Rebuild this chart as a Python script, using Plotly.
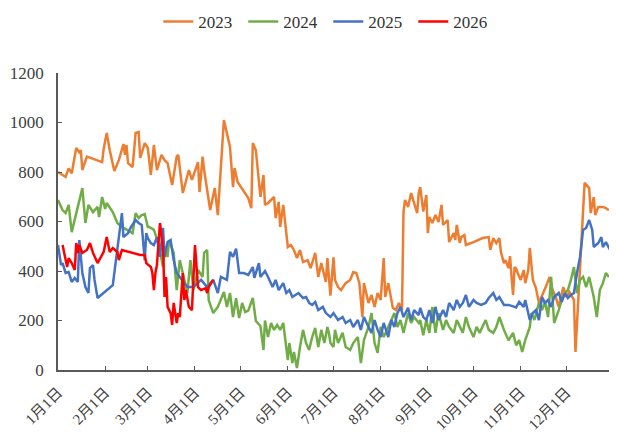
import pandas as pd
import plotly.graph_objects as go

# Day-of-year offsets (0 = Jan 1) and values
days_2023 = [0, 5, 7, 9, 12, 14, 15, 16, 19, 29, 30, 32, 34, 37, 40, 43, 44, 45, 46, 49, 51, 53, 54, 57, 59, 61,
             63, 65, 68, 70, 72, 75, 78, 79, 82, 86, 88, 92, 93, 95, 96, 100, 103, 105, 109, 113, 115, 116, 118,
             125, 127, 128, 130, 133, 135, 136, 138, 142, 143, 145, 146, 148, 151, 153, 155, 157, 159, 161, 164,
             166, 169, 171, 173, 176, 177, 179, 181, 182, 184, 186, 189, 192, 194, 196, 198, 200, 201, 204, 206,
             208, 210, 212, 214, 215, 217, 220, 222, 224, 226, 227, 228, 230, 232, 234, 236, 237, 238, 240, 241,
             242, 243, 244, 246, 248, 250, 252, 253, 256, 257, 260, 261, 262, 264, 265, 267, 268, 273, 279, 283,
             284, 286, 288, 290, 291, 293, 294, 296, 297, 298, 299, 300, 301, 302, 304, 306, 307, 309, 310, 312,
             314, 316, 319, 321, 323, 325, 327, 329, 332, 334, 336, 339, 340, 342, 344, 346, 349, 350, 352, 353,
             355, 358, 360, 362]
vals_2023 = [800, 780, 815, 795, 897, 880, 888, 808, 862, 840, 893, 958, 888, 804, 848, 913, 869, 909, 836, 820,
             958, 962, 857, 917, 897, 788, 909, 808, 869, 848, 836, 747, 862, 869, 715, 808, 768, 840, 719, 862,
             808, 646, 735, 626, 1010, 901, 739, 816, 760, 695, 654, 917, 888, 699, 788, 667, 675, 699, 614, 679,
             578, 667, 497, 505, 485, 452, 485, 436, 444, 412, 473, 376, 432, 356, 452, 300, 455, 364, 335, 323,
             351, 364, 396, 392, 351, 214, 351, 271, 303, 255, 311, 283, 452, 295, 351, 251, 242, 271, 242, 638,
             687, 659, 715, 675, 634, 715, 739, 640, 675, 707, 553, 618, 594, 626, 598, 667, 586, 606, 517, 553,
             525, 586, 513, 537, 545, 505, 517, 533, 537, 485, 533, 513, 533, 477, 432, 444, 412, 460, 376, 303,
             416, 410, 392, 364, 404, 351, 404, 493, 364, 331, 271, 311, 343, 376, 323, 295, 255, 335, 295, 315,
             283, 73, 295, 485, 756, 735, 634, 699, 626, 659, 659, 654, 646]

days_2024 = [0, 3, 5, 7, 9, 11, 13, 14, 16, 18, 20, 23, 26, 27, 29, 31, 32, 36, 39, 42, 45, 49, 51, 53, 55, 57,
             59, 60, 63, 66, 69, 70, 72, 73, 76, 78, 80, 82, 85, 87, 89, 92, 95, 96, 98, 99, 102, 105, 107, 109,
             111, 113, 115, 117, 119, 121, 123, 125, 128, 130, 133, 135, 136, 138, 140, 142, 144, 146, 148, 150,
             151, 152, 154, 155, 157, 159, 161, 163, 165, 167, 169, 171, 173, 175, 177, 178, 179, 181, 182, 184,
             187, 189, 192, 194, 197, 199, 201, 204, 206, 208, 210, 212, 214, 217, 219, 221, 223, 225, 227, 230,
             232, 234, 237, 238, 240, 242, 244, 246, 248, 250, 253, 255, 257, 260, 262, 264, 266, 268, 270, 273,
             275, 277, 279, 281, 283, 286, 288, 290, 293, 294, 296, 299, 301, 303, 305, 307, 310, 311, 313, 316,
             318, 320, 322, 324, 326, 329, 331, 333, 335, 337, 339, 341, 343, 345, 347, 349, 352, 354, 356, 358,
             360, 362]
vals_2024 = [687, 646, 634, 667, 557, 606, 654, 675, 735, 594, 667, 638, 659, 618, 699, 651, 675, 638, 594, 578,
             566, 553, 634, 614, 626, 630, 578, 578, 566, 513, 416, 485, 457, 525, 473, 323, 444, 392, 311, 444,
             323, 404, 376, 473, 485, 283, 230, 255, 283, 315, 255, 311, 214, 290, 210, 271, 234, 240, 291, 198,
             178, 81, 200, 133, 190, 162, 182, 162, 190, 93, 40, 109, 28, 73, 8, 93, 162, 109, 81, 133, 170, 93,
             162, 109, 174, 150, 109, 93, 162, 109, 150, 93, 81, 109, 133, 28, 121, 174, 230, 109, 69, 174, 133,
             174, 202, 230, 174, 202, 150, 230, 190, 214, 190, 202, 140, 202, 150, 255, 150, 230, 162, 202, 174,
             150, 202, 174, 150, 214, 174, 133, 174, 150, 174, 202, 162, 150, 174, 214, 162, 150, 120, 150, 100,
             121, 73, 121, 174, 230, 202, 271, 242, 275, 214, 376, 190, 242, 283, 311, 323, 364, 416, 311, 364,
             376, 335, 376, 295, 214, 323, 351, 392, 376]

days_2025 = [0, 2, 3, 5, 7, 9, 11, 13, 14, 16, 18, 20, 21, 23, 24, 26, 36, 38, 40, 41, 42, 43, 46, 48, 49, 51, 53,
             55, 57, 58, 59, 61, 63, 65, 67, 69, 70, 72, 74, 76, 78, 80, 85, 89, 94, 98, 102, 105, 107, 111, 113,
             115, 117, 119, 122, 125, 128, 129, 132, 133, 136, 138, 141, 143, 145, 148, 150, 152, 154, 156, 158,
             161, 163, 165, 167, 169, 171, 174, 176, 179, 181, 184, 187, 189, 192, 194, 197, 199, 201, 204, 206,
             208, 210, 212, 214, 217, 219, 221, 223, 225, 227, 230, 232, 234, 237, 238, 240, 242, 244, 246, 248,
             250, 253, 255, 257, 260, 262, 264, 266, 268, 270, 273, 275, 278, 281, 283, 286, 288, 290, 293, 294,
             296, 299, 301, 303, 306, 307, 310, 312, 314, 316, 318, 320, 322, 324, 326, 329, 331, 333, 335, 337,
             339, 341, 343, 345, 347, 349, 351, 352, 355, 357, 358, 360, 362, 364]
vals_2025 = [505, 424, 432, 392, 396, 356, 372, 356, 525, 392, 335, 311, 412, 424, 364, 291, 343, 444, 553, 594,
             634, 537, 553, 578, 586, 606, 594, 586, 444, 553, 533, 513, 505, 537, 457, 574, 457, 517, 525, 444,
             392, 376, 335, 335, 364, 335, 364, 311, 376, 364, 477, 457, 490, 392, 392, 384, 416, 372, 432, 376,
             400, 376, 335, 364, 323, 351, 311, 323, 295, 303, 311, 291, 295, 271, 263, 275, 242, 255, 230, 214,
             230, 202, 214, 190, 202, 174, 202, 162, 214, 174, 150, 202, 162, 133, 190, 133, 202, 174, 230, 255,
             214, 251, 202, 242, 222, 251, 214, 202, 242, 190, 255, 202, 242, 214, 271, 242, 283, 255, 271, 303,
             255, 283, 271, 263, 271, 291, 311, 283, 295, 263, 263, 263, 257, 253, 275, 255, 283, 202, 230, 242,
             202, 295, 271, 283, 255, 295, 311, 275, 311, 291, 303, 311, 392, 457, 566, 574, 606, 566, 497, 513,
             537, 497, 517, 493, 505]

days_2026 = [3, 6, 7, 9, 11, 12, 13, 14, 16, 19, 21, 23, 26, 28, 30, 32, 34, 36, 39, 40, 42, 54, 57, 58, 61, 62,
             63, 64, 65, 67, 69, 70, 71, 72, 74, 75, 76, 78, 79, 80, 82, 83, 84, 86, 88, 90, 92, 94, 97, 98, 99,
             102]
vals_2026 = [505, 416, 452, 432, 404, 513, 473, 505, 473, 485, 513, 473, 432, 452, 477, 537, 477, 493, 477, 444,
             485, 465, 465, 432, 416, 392, 323, 392, 424, 594, 497, 295, 376, 255, 230, 182, 271, 190, 230, 214,
             392, 283, 323, 255, 242, 505, 335, 323, 331, 311, 335, 364]

tick_dates = ["2023-01-01", "2023-02-01", "2023-03-01", "2023-04-01", "2023-05-01", "2023-06-01",
              "2023-07-01", "2023-08-01", "2023-09-01", "2023-10-01", "2023-11-01", "2023-12-01"]
tick_labels = ["1月1日", "2月1日", "3月1日", "4月1日", "5月1日", "6月1日",
               "7月1日", "8月1日", "9月1日", "10月1日", "11月1日", "12月1日"]

series = [
    ("2023", days_2023, vals_2023, "#ED7D31"),
    ("2024", days_2024, vals_2024, "#70AD47"),
    ("2025", days_2025, vals_2025, "#4472C4"),
    ("2026", days_2026, vals_2026, "#FF0000"),
]

base = pd.Timestamp("2023-01-01")
FONT = "'Liberation Serif', 'Noto Sans CJK SC', serif"

fig = go.Figure()
for name, d, v, c in series:
    x = [base + pd.Timedelta(days=int(k)) for k in d]
    fig.add_trace(go.Scatter(x=x, y=v, mode="lines", name=name,
                             line=dict(color=c, width=2.5)))

# page body adds an 8px offset, so the figure is 8px smaller than the window
fig.update_layout(
    width=609, height=429,
    margin=dict(l=50, r=5, t=65, b=67, autoexpand=False),
    paper_bgcolor="white", plot_bgcolor="white",
    font=dict(family=FONT, color="#404040"),
    showlegend=True,
    legend=dict(orientation="h", x=0.181, xanchor="left", y=1.172, yanchor="middle",
                font=dict(size=17, color="#333333", family=FONT),
                entrywidth=40, tracegroupgap=0, bgcolor="rgba(0,0,0,0)"),
)
fig.update_xaxes(
    type="date", range=["2023-01-01", "2023-12-31"], automargin=False,
    tickmode="array", tickvals=tick_dates, ticktext=tick_labels,
    tickangle=-45, tickfont=dict(size=15, color="#404040", family=FONT),
    ticklabelstandoff=6,
    showgrid=False, zeroline=False, showline=True, linecolor="#595959", linewidth=1.5,
    ticks="inside", ticklen=4, tickcolor="#595959",
)
fig.update_yaxes(
    range=[0, 1200], tickvals=[0, 200, 400, 600, 800, 1000, 1200], automargin=False,
    tickfont=dict(size=17, color="#404040", family=FONT),
    ticklabelstandoff=9,
    showgrid=False, zeroline=False, showline=True, linecolor="#595959", linewidth=1.5,
    ticks="inside", ticklen=4, tickcolor="#595959",
)

fig.write_html("out.html")
